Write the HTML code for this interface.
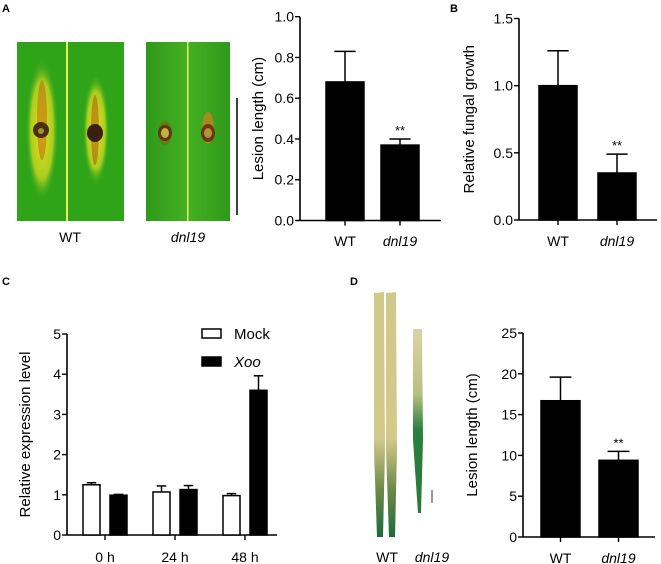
<!DOCTYPE html>
<html><head><meta charset="utf-8"><style>
body{margin:0;background:#fff}
svg{display:block;font-family:"Liberation Sans",sans-serif}
</style></head><body>
<svg id="fig" width="661" height="564" viewBox="0 0 661 564">
<defs>
<linearGradient id="leafB" x1="0" x2="1"><stop offset="0" stop-color="#2e9a1a"/><stop offset="0.5" stop-color="#45b022"/><stop offset="1" stop-color="#2e9a1a"/></linearGradient>
<radialGradient id="les"><stop offset="0" stop-color="#f0e020"/><stop offset="0.7" stop-color="#c8d820" stop-opacity="0.8"/><stop offset="1" stop-color="#40b020" stop-opacity="0"/></radialGradient>
<linearGradient id="dleaf" x1="0" y1="0" x2="0" y2="1"><stop offset="0" stop-color="#cfc98a"/><stop offset="0.6" stop-color="#d2c98a"/><stop offset="0.8" stop-color="#6f8a4a"/><stop offset="1" stop-color="#1e6a3a"/></linearGradient>
<linearGradient id="dleaf2" x1="0" y1="0" x2="0" y2="1"><stop offset="0" stop-color="#d8d3a8"/><stop offset="0.35" stop-color="#b8c080"/><stop offset="0.55" stop-color="#2a8040"/><stop offset="1" stop-color="#2a7a3a"/></linearGradient>
</defs>
<g font-weight="bold" font-size="11">
<text x="2" y="12">A</text>
<text x="450" y="12">B</text>
<text x="2" y="285">C</text>
<text x="350" y="285">D</text>
</g>
<!-- Panel A photos -->
<g>
<rect x="17" y="42" width="107" height="179" fill="#2fa418"/>
<ellipse cx="42" cy="130" rx="16" ry="70" fill="url(#les)"/>
<ellipse cx="96" cy="130" rx="13" ry="55" fill="url(#les)"/>
<rect x="66" y="42" width="2" height="179" fill="#e8f060"/>
<ellipse cx="42" cy="120" rx="5" ry="40" fill="#c07010" opacity="0.6"/>
<ellipse cx="41" cy="130" rx="8" ry="8" fill="#4a3010"/>
<ellipse cx="41" cy="131" rx="3" ry="3" fill="#a09040"/>
<ellipse cx="95" cy="130" rx="4" ry="35" fill="#b06010" opacity="0.6"/>
<ellipse cx="95" cy="133" rx="8" ry="9" fill="#3a2010"/>
</g>
<g>
<rect x="146" y="42" width="84" height="179" fill="url(#leafB)"/>
<rect x="187" y="42" width="1.5" height="179" fill="#d8f070"/>
<ellipse cx="165" cy="133" rx="7" ry="12" fill="#7a6a10" opacity="0.7"/>
<ellipse cx="165" cy="133" rx="7" ry="8" fill="#5a3a10"/>
<ellipse cx="165" cy="133" rx="4" ry="5" fill="#c8b040"/>
<ellipse cx="208" cy="128" rx="6" ry="16" fill="#d08020" opacity="0.7"/>
<ellipse cx="208" cy="133" rx="7" ry="9" fill="#6a3a10"/>
<ellipse cx="208" cy="133" rx="4" ry="5" fill="#b89040"/>
</g>
<line x1="237" y1="98" x2="237" y2="215" stroke="#000" stroke-width="1.5"/>
<text x="70" y="242" font-size="14" text-anchor="middle">WT</text>
<text x="188" y="242" font-size="14" font-style="italic" text-anchor="middle">dnl19</text>
<!-- Panel D photos -->
<g>
<path d="M374 293 L384 292 L385 450 L383 537 L377 537 L374 450 Z" fill="url(#dleaf)"/>
<path d="M386 293 L396 292 L397 450 L395 537 L389 537 L386 450 Z" fill="url(#dleaf)"/>
<path d="M413 329 L422 329 L423 440 L421 513 L418 513 L413 440 Z" fill="url(#dleaf2)"/>
</g>
<line x1="432" y1="490" x2="432" y2="503" stroke="#333" stroke-width="1"/>
<text x="387" y="562" font-size="14" text-anchor="middle">WT</text>
<text x="432" y="562" font-size="14" font-style="italic" text-anchor="middle">dnl19</text>
<g id="charts"></g>
</svg>
<script>
// Panel A data
const aCategories = ["WT", "dnl19"];
const aValues = [0.68, 0.37];
const aErrors = [0.15, 0.03];
const aTicks = [0.0, 0.2, 0.4, 0.6, 0.8, 1.0];
const aSig = ["", "**"];
// Panel B data
const bCategories = ["WT", "dnl19"];
const bValues = [1.0, 0.35];
const bErrors = [0.26, 0.14];
const bTicks = [0.0, 0.5, 1.0, 1.5];
const bSig = ["", "**"];
// Panel C data
const cCategories = ["0 h", "24 h", "48 h"];
const cMock = [1.25, 1.07, 0.98];
const cMockErr = [0.05, 0.15, 0.05];
const cXoo = [0.99, 1.13, 3.6];
const cXooErr = [0.02, 0.1, 0.36];
const cTicks = [0, 1, 2, 3, 4, 5];
// Panel D data
const dCategories = ["WT", "dnl19"];
const dValues = [16.7, 9.4];
const dErrors = [2.9, 1.1];
const dTicks = [0, 5, 10, 15, 20, 25];
const dSig = ["", "**"];

const NS = "http://www.w3.org/2000/svg";
const root = document.getElementById("charts");
function mk(tag, attrs, parent, text) {
  const e = document.createElementNS(NS, tag);
  for (const k in attrs) e.setAttribute(k, attrs[k]);
  if (text !== undefined) e.textContent = text;
  (parent || root).appendChild(e);
  return e;
}
function axes(g, cfg) {
  const y = v => cfg.y0 - (v - cfg.min) / (cfg.max - cfg.min) * (cfg.y0 - cfg.y1);
  const ax = mk("line", {x1: cfg.ax, y1: cfg.y1, x2: cfg.ax, y2: cfg.y0, stroke: "#000", "stroke-width": 1.6}, g);
  
  
  const xa = mk("line", {x1: cfg.ax, y1: cfg.y0, x2: cfg.axEnd, y2: cfg.y0, stroke: "#000", "stroke-width": 1.6}, g);
  
  
  cfg.ticks.forEach(t => {
    mk("line", {x1: cfg.ax - 5, y1: y(t), x2: cfg.ax, y2: y(t), stroke: "#000", "stroke-width": 1.4}, g);
    const tl = mk("text", {x: cfg.ax - 6, y: y(t) + 5, "font-size": 14, "text-anchor": "end"}, g, cfg.fmt(t));
    
    
  });
  const yl = mk("text", {x: cfg.ylx, y: (cfg.y0 + cfg.y1) / 2, "font-size": 15, "text-anchor": "middle", transform: `rotate(-90 ${cfg.ylx} ${(cfg.y0 + cfg.y1) / 2})`}, g, cfg.ylabel);
  
  
  return y;
}
function bar(g, x, w, v, e, y, y0, fill, name) {
  const top = y(v), et = y(v + e);
  const l = mk("line", {x1: x + w / 2, y1: et, x2: x + w / 2, y2: top, stroke: "#000", "stroke-width": 1.5}, g);
  
  
  mk("line", {x1: x + w / 2 - w * 0.28, y1: et, x2: x + w / 2 + w * 0.28, y2: et, stroke: "#000", "stroke-width": 1.5}, g);
  const r = mk("rect", {x: x, y: top, width: w, height: y0 - top, fill: fill, stroke: "#000", "stroke-width": 1.5}, g);
  
  
}
function twoBar(name, cfg, cats, vals, errs, sig, xs, w) {
  const g = mk("g", {});
  
  
  const y = axes(g, cfg);
  cats.forEach((c, i) => {
    bar(g, xs[i], w, vals[i], errs[i], y, cfg.y0, "#000", "bar-" + c.toLowerCase());
    mk("line", {x1: xs[i] + w / 2, y1: cfg.y0, x2: xs[i] + w / 2, y2: cfg.y0 + 5, stroke: "#000", "stroke-width": 1.4}, g);
    const t = mk("text", {x: xs[i] + w / 2, y: cfg.labY, "font-size": 14, "text-anchor": "middle", "font-style": i ? "italic" : "normal"}, g, c);
    
    
    if (sig[i]) {
      const s = mk("text", {x: xs[i] + w / 2, y: y(vals[i] + errs[i]) - 4, "font-size": 13, "text-anchor": "middle"}, g, sig[i]);
      
      
    }
  });
}
twoBar("lesion-chart-a", {ax: 300, axEnd: 441, y0: 220.5, y1: 16.7, min: 0, max: 1.0, ticks: aTicks, fmt: t => t.toFixed(1), ylx: 263, ylabel: "Lesion length (cm)", labY: 246},
  aCategories, aValues, aErrors, aSig, [326, 381], 38);
twoBar("fungal-growth-chart-b", {ax: 519, axEnd: 657, y0: 220, y1: 18.5, min: 0, max: 1.5, ticks: bTicks, fmt: t => t.toFixed(1), ylx: 474, ylabel: "Relative fungal growth", labY: 246},
  bCategories, bValues, bErrors, bSig, [539, 598], 38);
twoBar("lesion-chart-d", {ax: 523, axEnd: 655, y0: 537, y1: 333, min: 0, max: 25, ticks: dTicks, fmt: t => String(t), ylx: 477, ylabel: "Lesion length (cm)", labY: 563},
  dCategories, dValues, dErrors, dSig, [541, 599], 39);

// Panel C
(function () {
  const g = mk("g", {});
  
  
  const cfg = {ax: 67, axEnd: 277, y0: 535, y1: 334, min: 0, max: 5, ticks: cTicks, fmt: t => String(t), ylx: 30, ylabel: "Relative expression level"};
  const y = axes(g, cfg);
  const starts = [83, 153, 223], w = 17, gap = 27;
  cCategories.forEach((c, i) => {
    bar(g, starts[i], w, cMock[i], cMockErr[i], y, cfg.y0, "#fff", "bar-mock-" + i);
    bar(g, starts[i] + gap, w, cXoo[i], cXooErr[i], y, cfg.y0, "#000", "bar-xoo-" + i);
    const cx = starts[i] + (gap + w) / 2;
    mk("line", {x1: cx, y1: cfg.y0, x2: cx, y2: cfg.y0 + 5, stroke: "#000", "stroke-width": 1.4}, g);
    const t = mk("text", {x: cx, y: 562, "font-size": 14, "text-anchor": "middle"}, g, c);
    
    
  });
  const l1 = mk("rect", {x: 202, y: 329, width: 19, height: 9, fill: "#fff", stroke: "#000", "stroke-width": 1.5}, g);
  
  
  const t1 = mk("text", {x: 234, y: 339, "font-size": 15}, g, "Mock");
  
  
  const l2 = mk("rect", {x: 202, y: 357, width: 19, height: 9, fill: "#000", stroke: "#000", "stroke-width": 1.5}, g);
  
  
  const t2 = mk("text", {x: 234, y: 367, "font-size": 15, "font-style": "italic"}, g, "Xoo");
  
  
})();
</script>
</body></html>
